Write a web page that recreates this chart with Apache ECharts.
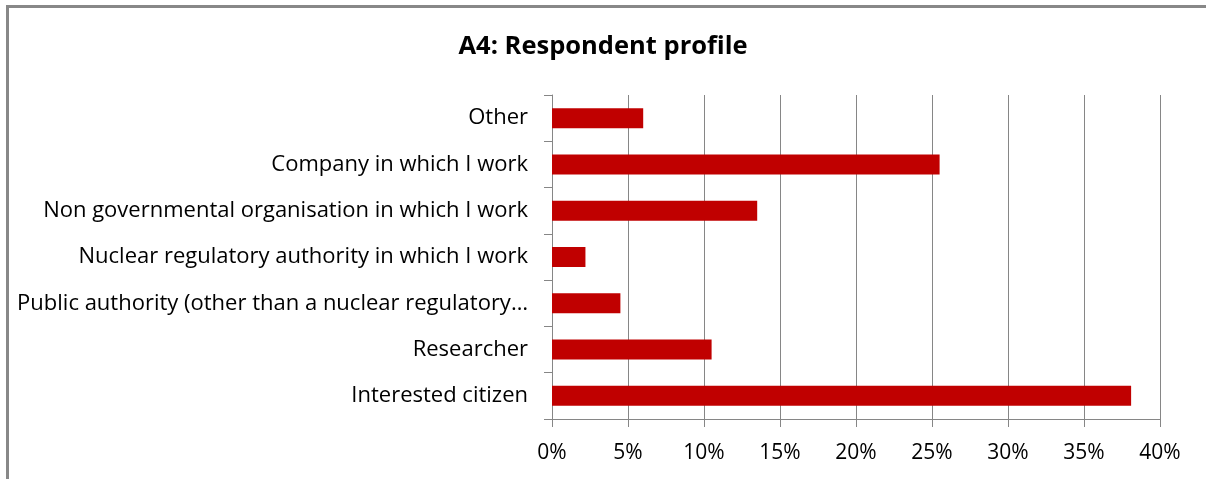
<!DOCTYPE html>
<html>
<head>
<meta charset="utf-8">
<script src="https://cdn.jsdelivr.net/npm/echarts@6/dist/echarts.min.js"></script>
<style>
  html, body { margin: 0; padding: 0; background: #fff; }
  #chart { width: 1206px; height: 479px; }
</style>
</head>
<body>
<div id="chart"></div>
<script>
// categories, top to bottom
var categories = [
    'Other',
    'Company in which I work',
    'Non governmental organisation in which I work',
    'Nuclear regulatory authority in which I work',
    'Public authority (other than a nuclear regulatory\u2026',
    'Researcher',
    'Interested citizen'
];
// share of respondents, %
var values = [6.0, 25.5, 13.5, 2.2, 4.5, 10.5, 38.1];
var xTicks = [0, 5, 10, 15, 20, 25, 30, 35, 40];

var font = '"Open Sans", sans-serif';
var gray = '#868686';

var myChart = echarts.init(document.getElementById('chart'));
myChart.setOption({
    animation: false,
    backgroundColor: '#fff',
    title: {
        text: 'A4: Respondent profile',
        left: 'center',
        top: 29,
        textStyle: {
            fontFamily: font,
            fontSize: 25.5,
            fontWeight: 'bold',
            color: '#000'
        }
    },
    // chart frame
    graphic: [{
        type: 'rect',
        shape: { x: 7.5, y: 6.5, width: 1210, height: 490 },
        style: { fill: 'none', stroke: '#888', lineWidth: 3 },
        silent: true
    }],
    grid: {
        left: 552,
        right: 46,
        top: 95,
        bottom: 60
    },
    xAxis: {
        type: 'value',
        min: xTicks[0],
        max: xTicks[xTicks.length - 1],
        interval: 5,
        axisLine: { show: true, lineStyle: { color: gray, width: 1 } },
        axisTick: { show: true, length: 8, lineStyle: { color: gray } },
        splitLine: { show: true, lineStyle: { color: gray, width: 1 } },
        axisLabel: {
            formatter: '{value}%',
            fontFamily: font,
            fontSize: 21,
            color: '#000',
            margin: 24
        }
    },
    yAxis: {
        type: 'category',
        inverse: true,
        data: categories,
        axisLine: { show: true, lineStyle: { color: gray, width: 1 } },
        axisTick: { show: true, length: 8, lineStyle: { color: gray } },
        splitLine: { show: false },
        axisLabel: {
            fontFamily: font,
            fontSize: 22,
            color: '#000',
            margin: 24
        }
    },
    series: [{
        type: 'bar',
        data: values,
        barWidth: 20,
        itemStyle: { color: '#C00000' }
    }]
});
</script>
</body>
</html>
